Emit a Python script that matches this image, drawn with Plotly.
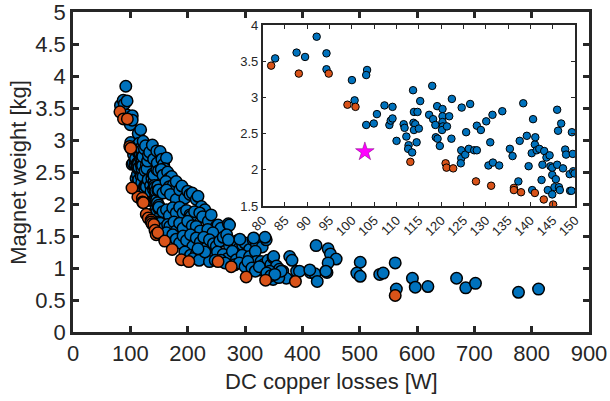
import plotly.graph_objects as go

# ---------------- data ----------------
# low-loss designs (x <= 150 W), shown in both main plot and inset
near_blue = [
    (82.8, 3.54), (87.6, 3.62), (89.5, 3.56), (92.1, 3.84), (94.3, 3.61), (94.3, 3.39),
    (100.0, 3.24), (100.6, 2.96), (103.4, 3.38), (103.2, 3.31), (103.2, 2.62), (104.9, 2.64),
    (105.6, 2.77), (107.3, 2.89), (109.1, 2.87), (108.4, 2.62), (108.7, 2.68), (109.1, 2.71),
    (110.0, 2.40), (111.6, 2.63), (111.8, 2.58), (112.2, 2.46), (112.7, 2.34), (112.6, 2.29),
    (113.5, 2.24), (113.7, 3.10), (113.8, 2.65), (113.9, 2.80), (114.7, 2.80), (114.2, 2.63),
    (113.9, 2.55), (114.5, 2.38), (115.0, 2.57), (115.3, 2.95), (117.3, 2.76), (118.0, 3.16),
    (118.2, 2.70), (118.7, 2.62), (118.8, 2.45), (119.1, 2.88), (119.2, 2.43), (119.7, 2.33),
    (120.3, 2.84), (120.3, 2.74), (120.3, 2.66), (120.4, 2.60), (120.2, 2.55), (121.3, 2.60),
    (121.8, 2.74), (122.4, 2.98), (122.3, 2.43), (124.6, 2.86), (124.5, 2.27), (124.5, 2.16),
    (124.4, 2.09), (125.6, 2.52), (125.4, 2.21), (126.2, 2.29), (126.5, 2.91), (127.4, 2.27),
    (128.0, 2.27), (128.0, 2.61), (128.9, 2.55), (130.1, 2.67), (131.0, 2.38), (130.6, 2.06),
    (131.5, 2.76), (131.6, 2.10), (133.0, 2.06), (133.7, 2.81), (135.4, 2.29), (136.0, 2.19),
    (137.3, 1.84), (137.6, 2.40), (138.4, 2.92), (139.2, 2.47), (139.6, 2.05), (140.3, 2.23),
    (140.6, 2.70), (140.4, 1.72), (141.0, 2.35), (141.1, 2.45), (141.4, 2.27), (142.0, 2.29),
    (142.5, 1.86), (142.7, 2.07), (143.1, 2.26), (143.6, 2.17), (143.9, 1.72), (144.3, 2.20),
    (144.5, 2.05), (144.9, 1.93), (144.9, 2.03), (144.9, 1.66), (145.4, 1.76), (145.7, 1.87),
    (146.0, 2.07), (146.0, 2.83), (146.2, 2.54), (146.4, 1.76), (146.6, 1.72), (146.9, 2.64),
    (147.3, 2.02), (147.8, 2.28), (148.0, 2.21), (148.8, 1.94), (148.9, 1.71), (149.3, 2.52),
    (149.5, 2.22), (149.6, 1.98), (149.9, 1.95), (149.2, 1.71),
]
near_orange = [
    (81.9, 3.44), (88.1, 3.33), (94.8, 3.33), (99.0, 2.90), (100.8, 2.87), (113.1, 2.11),
    (121.0, 2.09), (121.2, 2.03), (122.7, 2.02), (127.8, 1.84), (131.2, 1.78), (136.3, 1.75),
    (136.3, 1.72), (137.9, 1.69), (141.0, 1.68), (143.0, 1.59), (145.1, 1.52),
]
# higher-loss designs (x > 150 W), main plot only
far_blue = [
    (152, 2.82), (155, 2.70), (158, 2.62), (163, 2.72), (160, 2.55), (154, 2.54), (157, 2.45),
    (165, 2.50), (168, 2.40), (172, 2.43), (162, 2.35), (168, 2.27), (175, 2.30), (180, 2.35),
    (157, 2.17), (163, 2.22), (170, 2.15), (180, 2.07), (186, 2.22), (190, 2.28), (195, 2.09),
    (200, 2.20), (204, 2.15), (208, 2.17), (215, 2.07), (218, 2.12), (224, 1.96), (230, 1.91),
    (157, 1.88), (163, 1.91), (168, 1.82), (174, 1.94), (180, 1.86), (186, 1.95), (192, 1.86),
    (198, 1.90), (204, 1.83), (206, 1.81), (212, 1.88), (221, 1.86), (226, 1.80), (236, 1.73),
    (241, 1.83), (250, 1.65), (253, 1.67), (258, 1.62), (271, 1.69), (273, 1.67), (152, 1.70),
    (158, 1.62), (165, 1.68), (169, 1.65), (176, 1.72), (180, 1.58), (186, 1.70), (192, 1.62),
    (200, 1.73), (208, 1.66), (215, 1.65), (222, 1.58), (235, 1.60), (244, 1.55), (156, 1.50),
    (163, 1.55), (174, 1.52), (180, 1.45), (186, 1.39), (192, 1.50), (198, 1.43), (205, 1.52),
    (209, 1.34), (215, 1.47), (222, 1.40), (228, 1.48), (232, 1.31), (238, 1.44), (245, 1.38),
    (250, 1.34), (256, 1.42), (262, 1.48), (268, 1.52), (273, 1.34), (280, 1.40), (285, 1.42),
    (290, 1.31), (296, 1.36), (300, 1.39), (308, 1.29), (314, 1.44), (320, 1.37), (330, 1.33),
    (337, 1.44), (335, 1.48), (315, 1.47), (291, 1.45), (271, 1.44), (195, 1.25), (205, 1.20),
    (215, 1.22), (225, 1.17), (233, 1.16), (243, 1.20), (252, 1.25), (262, 1.21), (270, 1.15),
    (278, 1.26), (285, 1.13), (295, 1.20), (308, 1.18), (318, 1.26), (320, 1.10), (328, 1.10),
    (332, 1.05), (340, 1.12), (345, 1.05), (349, 1.16), (350, 1.18), (355, 1.03), (360, 0.98),
    (366, 0.95), (372, 0.84), (378, 1.18), (382, 1.12), (390, 0.95), (343, 0.95), (326, 0.97),
    (349, 0.82), (359, 0.85), (363, 0.95), (395, 0.95), (414, 0.93), (422, 0.91), (426, 0.79),
    (424, 1.35), (445, 1.30), (449, 1.22), (459, 1.14), (445, 1.08), (443, 0.93), (501, 1.09),
    (495, 0.92), (501, 0.87), (535, 0.90), (541, 0.92), (562, 1.08), (564, 0.67), (592, 0.84),
    (597, 0.70), (619, 0.71), (669, 0.84), (685, 0.69), (702, 0.76), (777, 0.62), (812, 0.67),
    (258, 1.12), (265, 1.08), (282, 1.05), (290, 1.08), (300, 1.02), (305, 1.10), (312, 1.00),
    (318, 0.95), (325, 1.02), (338, 0.92), (345, 0.88), (352, 0.90), (210, 1.15), (220, 1.12),
    (238, 1.10), (248, 1.12), (230, 1.25), (218, 1.30), (413, 0.97), (441, 0.95),
]
far_orange = [
    (102.9, 2.25), (148, 1.55), (160, 1.42), (173, 1.29), (189, 1.13), (202, 1.10),
    (253, 1.10), (276, 1.02), (302, 0.86), (336, 0.81), (388, 0.79), (562, 0.57),
]
selected_design = [(102.9, 2.25)]

main_x_ticks = [0, 100, 200, 300, 400, 500, 600, 700, 800, 900]
main_y_ticks = [0, 0.5, 1, 1.5, 2, 2.5, 3, 3.5, 4, 4.5, 5]
main_y_labels = ["0", "0.5", "1", "1.5", "2", "2.5", "3", "3.5", "4", "4.5", "5"]
inset_x_ticks = [80, 85, 90, 95, 100, 105, 110, 115, 120, 125, 130, 135, 140, 145, 150]
inset_y_ticks = [1.5, 2, 2.5, 3, 3.5, 4]
inset_y_labels = ["1.5", "2", "2.5", "3", "3.5", "4"]

x_title = "DC copper losses [W]"
y_title = "Magnet weight [kg]"

# ---------------- styling ----------------
BLUE = "#0072BD"
ORANGE = "#D95319"
AX = "#262626"
FONT = "Liberation Sans, Arial, Helvetica, sans-serif"
FS = 22


def xs(pts):
    return [p[0] for p in pts]


def ys(pts):
    return [p[1] for p in pts]


fig = go.Figure()

main_blue = near_blue + far_blue
main_orange = near_orange + far_orange
fig.add_trace(go.Scatter(x=xs(main_blue), y=ys(main_blue), mode="markers",
                         marker=dict(size=11.5, color=BLUE, line=dict(color="black", width=1.5)),
                         xaxis="x", yaxis="y", showlegend=False, hoverinfo="skip"))
fig.add_trace(go.Scatter(x=xs(main_orange), y=ys(main_orange), mode="markers",
                         marker=dict(size=11.5, color=ORANGE, line=dict(color="black", width=1.5)),
                         xaxis="x", yaxis="y", showlegend=False, hoverinfo="skip"))

fig.add_trace(go.Scatter(x=xs(near_blue), y=ys(near_blue), mode="markers",
                         marker=dict(size=7.5, color=BLUE, line=dict(color="black", width=1)),
                         xaxis="x2", yaxis="y2", showlegend=False, hoverinfo="skip"))
fig.add_trace(go.Scatter(x=xs(near_orange), y=ys(near_orange), mode="markers",
                         marker=dict(size=7.5, color=ORANGE, line=dict(color="black", width=1)),
                         xaxis="x2", yaxis="y2", showlegend=False, hoverinfo="skip"))
fig.add_trace(go.Scatter(x=xs(selected_design), y=ys(selected_design), mode="markers",
                         marker=dict(size=14, symbol="star", color="#FF00FF",
                                     line=dict(color="#7a007a", width=0.5)),
                         xaxis="x2", yaxis="y2", showlegend=False, hoverinfo="skip"))

fig.update_layout(
    width=610, height=401,
    margin=dict(l=73, r=21, t=12, b=69, autoexpand=False),
    paper_bgcolor="white", plot_bgcolor="white",
    font=dict(family=FONT, color=AX, size=FS),
    xaxis=dict(
        domain=[0, 1], range=[0, 900], tickvals=main_x_ticks, automargin=False,
        ticklabeloverflow="allow",
        showgrid=False, zeroline=False, showline=True, linecolor=AX, linewidth=2.5,
        mirror="ticks", ticks="inside", ticklen=6, tickwidth=2.5, tickcolor=AX,
        tickfont=dict(size=FS, color=AX),
    ),
    yaxis=dict(
        domain=[0, 1], range=[0, 5.0001], tickvals=main_y_ticks, ticktext=main_y_labels,
        automargin=False, ticklabeloverflow="allow",
        showgrid=False, zeroline=False, showline=True, linecolor=AX, linewidth=2.5,
        mirror="ticks", ticks="inside", ticklen=6, tickwidth=2.5, tickcolor=AX,
        tickfont=dict(size=FS, color=AX),
    ),
    xaxis2=dict(
        domain=[0.3676, 0.9729], range=[80, 150], tickvals=inset_x_ticks, anchor="y2",
        automargin=False, ticklabeloverflow="allow",
        showgrid=False, zeroline=False, showline=True, linecolor=AX, linewidth=1.5,
        mirror="ticks", ticks="inside", ticklen=4, tickwidth=1.2, tickcolor=AX,
        tickangle=-45, tickfont=dict(size=13, color=AX),
    ),
    yaxis2=dict(
        domain=[0.3938, 0.959], range=[1.5, 4], tickvals=inset_y_ticks, ticktext=inset_y_labels,
        anchor="x2", automargin=False, ticklabeloverflow="allow",
        showgrid=False, zeroline=False, showline=True, linecolor=AX, linewidth=1.5,
        mirror="ticks", ticks="inside", ticklen=4, tickwidth=1.2, tickcolor=AX,
        tickfont=dict(size=13, color=AX),
    ),
    annotations=[
        dict(text=x_title, xref="paper", yref="paper", x=0.5, y=-0.155,
             xanchor="center", yanchor="middle", showarrow=False,
             font=dict(size=FS, color=AX, family=FONT)),
        dict(text=y_title, xref="paper", yref="paper", x=-0.107, y=0.5,
             xanchor="center", yanchor="middle", showarrow=False, textangle=-90,
             font=dict(size=FS, color=AX, family=FONT)),
    ],
)

fig.write_html(
    "out.html",
    config={"displayModeBar": False},
    post_script="document.body.style.margin='0';document.body.style.padding='0';",
)
